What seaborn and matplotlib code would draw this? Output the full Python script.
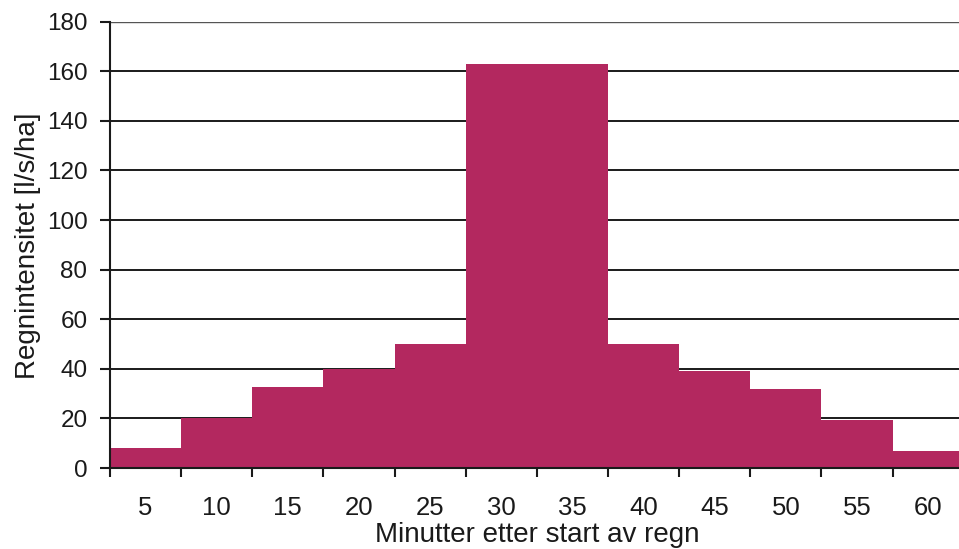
import matplotlib
matplotlib.use("Agg")
import matplotlib.pyplot as plt
import seaborn as sns
import pandas as pd
import numpy as np

# Design rainfall: intensity per 5-minute interval
minutes = ["5", "10", "15", "20", "25", "30", "35", "40", "45", "50", "55", "60"]
intensity = [8, 20, 32.5, 40, 50, 163, 163, 50, 39, 32, 19.5, 7]
y_ticks = [0, 20, 40, 60, 80, 100, 120, 140, 160, 180]

bar_color = "#B3285F"
ink = "#1a1a1a"

sns.set_theme(style="white")
plt.rcParams["font.family"] = ["Liberation Sans", "DejaVu Sans"]

df = pd.DataFrame({"minutt": minutes, "intensitet": intensity})

fig = plt.figure(figsize=(9.59, 5.49), dpi=100)
ax = fig.add_axes([0.1147, 0.1475, 0.8903, 0.813])

# horizontal grid lines behind the bars
for v in y_ticks[1:-1]:
    ax.axhline(v, color=ink, lw=1.4, zorder=0)
ax.axhline(180, color="#555555", lw=1.0, zorder=0)

sns.barplot(data=df, x="minutt", y="intensitet", order=minutes,
            color=bar_color, width=1.0, saturation=1.0,
            edgecolor="none", linewidth=0, ax=ax, zorder=2)

n = len(minutes)
ax.set_xlim(-0.5, n - 0.5)
ax.set_ylim(0, 180)
ax.set_yticks(y_ticks)
ax.set_yticklabels([str(v) for v in y_ticks], fontsize=17.5, color=ink)

# category labels centred, tick marks on category boundaries
ax.set_xticks(np.arange(n))
ax.set_xticklabels(minutes, fontsize=18.5, color=ink)
ax.set_xticks(np.arange(n) - 0.5, minor=True)
ax.tick_params(axis="x", which="major", length=0, pad=20)
ax.tick_params(axis="x", which="minor", direction="out", length=6.5,
               width=1.5, color=ink, bottom=True)
ax.tick_params(axis="y", which="major", direction="out", length=7.2,
               width=1.5, color=ink, left=True, pad=9)

for side in ["top", "right"]:
    ax.spines[side].set_visible(False)
for side in ["left", "bottom"]:
    ax.spines[side].set_color(ink)
    ax.spines[side].set_linewidth(1.5)
    ax.spines[side].set_zorder(3)

ax.set_xlabel("")
ax.set_ylabel("")
fig.text(537 / 959, 1 - 541.5 / 549, "Minutter etter start av regn",
         fontsize=20, color=ink, ha="center", va="baseline")
fig.text(35 / 959, 1 - 246 / 549, "Regnintensitet [l/s/ha]",
         fontsize=20, color=ink, ha="center", va="baseline",
         rotation=90, rotation_mode="anchor")

fig.savefig("out.png", dpi=100, facecolor="white")
